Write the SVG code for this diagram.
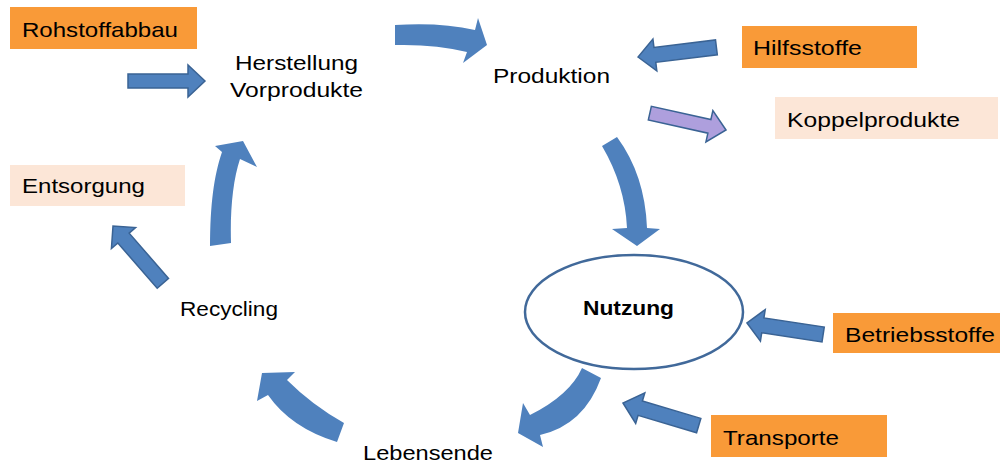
<svg xmlns="http://www.w3.org/2000/svg" width="1000" height="466" viewBox="0 0 1000 466">
<style>
.t{font-family:"Liberation Sans",Arial,sans-serif;font-size:21px;fill:#000}
.b{font-weight:bold}
.or{fill:#F99A38}
.pe{fill:#FCE6D7}
.ca{fill:#4F81BD}
.sa{fill:#4F81BD;stroke:#3A6394;stroke-width:1.5;stroke-linejoin:miter}
.pa{fill:#AE9FDD;stroke:#3A6394;stroke-width:1.5}
</style>
<rect width="1000" height="466" fill="#fff"/>
<g id="connectors">
<path class="ca" d="M395,25 Q440,22 475,30 L478,18 L487,45 L463,63 L467,52 Q435,44 395,45 Z"/>
<path class="ca" d="M602,146 Q625,185 627,228 L612,229 L637,246 L660,229 L647,228 Q645,175 617,137 Z"/>
<path class="ca" d="M582,368 Q570,395 530,415 L523,403 L518,433 L543,447 L540,435 Q584,425 601,378 Z"/>
<path class="ca" d="M337,442 Q291,428 268,395 L257,401 L262,373 L295,372 L287,380 Q312,405 344,423 Z"/>
<path class="ca" d="M210,246 C210,205 214,175 222,152 L215,146 L243,141 L257,167 L240,159 C233,180 230,210 231,243 Z"/>
<path class="sa" transform="translate(205,81)" d="M0,0 L-17,-16 L-17,-7 L-77,-7 L-77,7 L-17,7 L-17,16 Z"/>
<path class="sa" transform="translate(638,57) rotate(173)" d="M0,0 L-17,-16 L-17,-7.5 L-79,-7.5 L-79,7.5 L-17,7.5 L-17,16 Z"/>
<path class="pa" transform="translate(726,130) rotate(12.5)" d="M0,0 L-17,-16 L-17,-7 L-78,-7 L-78,7 L-17,7 L-17,16 Z"/>
<path class="sa" transform="translate(747,323) rotate(188.6)" d="M0,0 L-16,-16 L-16,-7.5 L-77,-7.5 L-77,7.5 L-16,7.5 L-16,16 Z"/>
<path class="sa" transform="translate(623,403) rotate(196.6)" d="M0,0 L-18,-16 L-18,-7.5 L-79,-7.5 L-79,7.5 L-18,7.5 L-18,16 Z"/>
<path class="sa" transform="translate(113,226) rotate(229)" d="M0,0 L-16,-16 L-16,-7.5 L-76,-7.5 L-76,7.5 L-16,7.5 L-16,16 Z"/>
</g>
<g id="rohstoffabbau"><rect class="or" x="10" y="7" width="187" height="42"/><text class="t" x="22" y="37" textLength="156" lengthAdjust="spacingAndGlyphs">Rohstoffabbau</text></g>
<g id="herstellung"><text class="t" x="235" y="70" textLength="123" lengthAdjust="spacingAndGlyphs">Herstellung</text><text class="t" x="230" y="97" textLength="133" lengthAdjust="spacingAndGlyphs">Vorprodukte</text></g>
<g id="produktion"><text class="t" x="493" y="83" textLength="117" lengthAdjust="spacingAndGlyphs">Produktion</text></g>
<g id="hilfsstoffe"><rect class="or" x="742" y="26" width="175" height="42"/><text class="t" x="753" y="55" textLength="109" lengthAdjust="spacingAndGlyphs">Hilfsstoffe</text></g>
<g id="koppelprodukte"><rect class="pe" x="775" y="97" width="223" height="42"/><text class="t" x="787" y="127" textLength="173" lengthAdjust="spacingAndGlyphs">Koppelprodukte</text></g>
<g id="nutzung"><ellipse cx="634" cy="312" rx="109" ry="57" fill="#fff" stroke="#41699A" stroke-width="2.5"/><text class="t b" x="583" y="315" textLength="91" lengthAdjust="spacingAndGlyphs">Nutzung</text></g>
<g id="betriebsstoffe"><rect class="or" x="833" y="313" width="167" height="40"/><text class="t" x="845" y="342" textLength="150" lengthAdjust="spacingAndGlyphs">Betriebsstoffe</text></g>
<g id="transporte"><rect class="or" x="711" y="415" width="176" height="42"/><text class="t" x="723" y="445" textLength="116" lengthAdjust="spacingAndGlyphs">Transporte</text></g>
<g id="lebensende"><text class="t" x="363" y="460" textLength="130" lengthAdjust="spacingAndGlyphs">Lebensende</text></g>
<g id="recycling"><text class="t" x="180" y="316" textLength="98" lengthAdjust="spacingAndGlyphs">Recycling</text></g>
<g id="entsorgung"><rect class="pe" x="10" y="165" width="175" height="41"/><text class="t" x="22" y="193" textLength="123" lengthAdjust="spacingAndGlyphs">Entsorgung</text></g>
</svg>
